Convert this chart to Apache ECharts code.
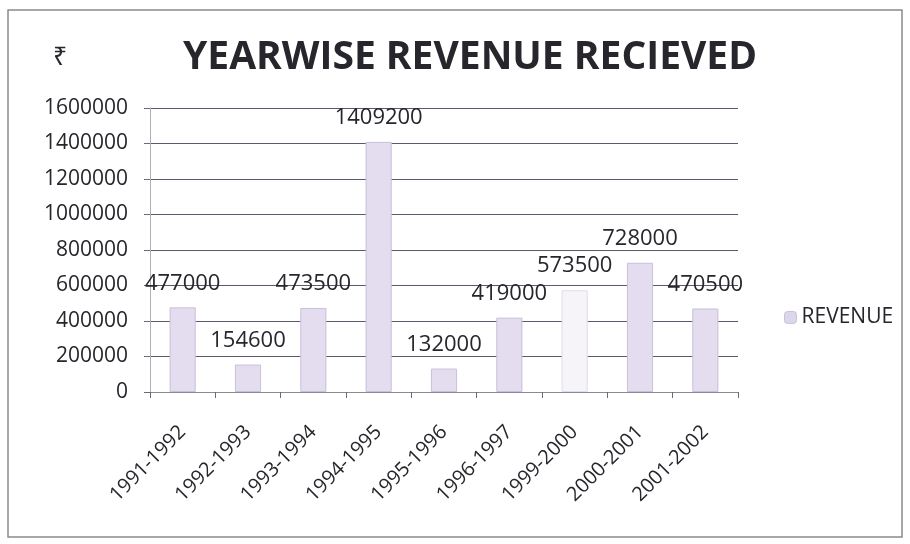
<!DOCTYPE html>
<html>
<head>
<meta charset="utf-8">
<script src="https://cdn.jsdelivr.net/npm/echarts@6/dist/echarts.min.js"></script>
<style>
  html, body { margin: 0; padding: 0; background: #fff; }
  #chart { width: 910px; height: 544px; }
</style>
</head>
<body>
<div id="chart"></div>
<script>
// Financial years on the category axis
const years = ['1991-1992', '1992-1993', '1993-1994', '1994-1995', '1995-1996',
               '1996-1997', '1999-2000', '2000-2001', '2001-2002'];
// Revenue received per year (₹)
const revenue = [477000, 154600, 473500, 1409200, 132000, 419000, 573500, 728000, 470500];
// Value axis ticks
const yTicks = [0, 200000, 400000, 600000, 800000, 1000000, 1200000, 1400000, 1600000];

const font = '"Open Sans", "Liberation Sans", sans-serif';
const ink = '#26262c';
const chart = echarts.init(document.getElementById('chart'), null, { renderer: 'canvas' });

// the 1999-2000 bar is printed much fainter than the others
const barData = revenue.map((v, i) => years[i] === '1999-2000'
  ? { value: v, itemStyle: { color: '#f6f3f9', borderColor: '#e2dcea' } }
  : v);

chart.setOption({
  backgroundColor: '#ffffff',
  animation: false,
  title: {
    text: 'YEARWISE REVENUE RECIEVED',
    left: 465, top: 33, textAlign: 'center',
    textStyle: { fontFamily: font, fontSize: 39, fontWeight: 'bold', color: ink }
  },
  graphic: [
    { type: 'rect', shape: { x: 8, y: 10, width: 894, height: 527 },
      style: { fill: 'none', stroke: '#8a8a8a', lineWidth: 1.5 }, silent: true },
    { type: 'text', left: 53, top: 45,
      style: { text: '₹', font: '25px "Noto Sans", "DejaVu Sans", sans-serif', fill: ink } }
  ],
  legend: {
    data: ['REVENUE'], orient: 'vertical', left: 779, top: 302,
    itemWidth: 12, itemHeight: 12, itemGap: 6,
    itemStyle: { color: '#dcd6ea', borderColor: '#c9c2da', borderWidth: 1 },
    textStyle: { fontFamily: font, fontSize: 21, color: ink }
  },
  grid: { left: 150, right: 172, top: 108, bottom: 152, containLabel: false },
  xAxis: {
    type: 'category', data: years,
    axisLine: { show: true, lineStyle: { color: '#8a8a96', width: 1 } },
    axisTick: { show: true, alignWithLabel: false, length: 6, lineStyle: { color: '#6a6a72' } },
    axisLabel: { interval: 0, rotate: 45, margin: 37, fontFamily: font, fontSize: 20, color: ink }
  },
  yAxis: {
    type: 'value', min: yTicks[0], max: yTicks[yTicks.length - 1], interval: yTicks[1] - yTicks[0],
    axisLine: { show: true, lineStyle: { color: '#b0b0b8' } },
    axisTick: { show: true, length: 6, lineStyle: { color: '#6a6a72' } },
    splitLine: { show: true, lineStyle: { color: '#5a5a6a', width: 1.2 } },
    axisLabel: { margin: 22, fontFamily: font, fontSize: 21, color: ink, formatter: v => String(v) }
  },
  series: [{
    name: 'REVENUE', type: 'bar', data: barData, barWidth: '40%',
    itemStyle: { color: '#e4dcef', borderColor: '#c9bfd9', borderWidth: 1 },
    label: { show: true, position: 'top', distance: 13, fontFamily: font, fontSize: 22, color: ink }
  }]
});
</script>
</body>
</html>
